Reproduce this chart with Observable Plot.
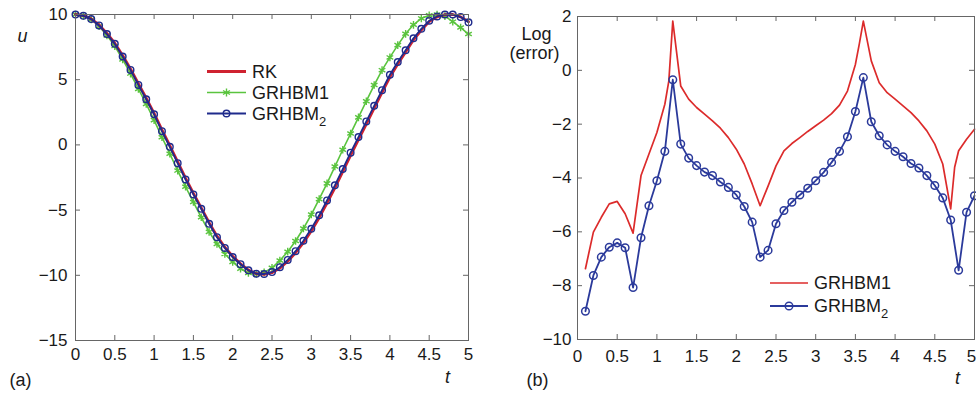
<!DOCTYPE html>
<html><head><meta charset="utf-8">
<script src="https://cdn.jsdelivr.net/npm/d3@7"></script>
<script src="https://cdn.jsdelivr.net/npm/@observablehq/plot@0.6"></script>
<style>
body{margin:0;background:#fff;}
#wrap{position:relative;width:976px;height:394px;font-family:"Liberation Sans",Arial,sans-serif;}
#wrap svg{position:absolute;left:0;top:0;}
</style></head><body><div id="wrap"></div>
<script>
// ---------- panel (a): u(t) ----------
const tA = [0,0.1,0.2,0.3,0.4,0.5,0.6,0.7,0.8,0.9,1.0,1.1,1.2,1.3,1.4,1.5,1.6,1.7,1.8,1.9,2.0,2.1,2.2,2.3,2.4,2.5,2.6,2.7,2.8,2.9,3.0,3.1,3.2,3.3,3.4,3.5,3.6,3.7,3.8,3.9,4.0,4.1,4.2,4.3,4.4,4.5,4.6,4.7,4.8,4.9,5.0];
const rkU = [10,9.92,9.67,9.2,8.55,7.8,6.85,5.82,4.7,3.58,2.42,1.15,-0.05,-1.3,-2.55,-3.72,-4.83,-5.96,-7.0,-7.85,-8.55,-9.12,-9.6,-9.88,-9.92,-9.8,-9.45,-8.92,-8.27,-7.5,-6.6,-5.58,-4.46,-3.3,-2.06,-0.8,0.4,1.6,2.82,4.02,5.2,6.2,7.12,8.06,8.8,9.45,9.82,9.99,10.0,9.82,9.45];
const grhbm1U = [10,9.9,9.62,9.1,8.4,7.58,6.56,5.47,4.29,3.14,1.9,0.59,-0.68,-1.97,-3.21,-4.38,-5.55,-6.67,-7.6,-8.37,-8.98,-9.5,-9.82,-9.9,-9.78,-9.43,-8.87,-8.19,-7.37,-6.41,-5.34,-4.16,-2.95,-1.66,-0.37,0.87,2.11,3.35,4.59,5.73,6.71,7.65,8.52,9.21,9.7,9.94,10.0,9.88,9.45,9.0,8.5];
const grhbm2U = [10,9.9,9.65,9.16,8.5,7.75,6.78,5.75,4.6,3.5,2.35,1.05,-0.15,-1.4,-2.65,-3.8,-4.9,-6.05,-7.08,-7.9,-8.6,-9.15,-9.62,-9.88,-9.9,-9.75,-9.38,-8.82,-8.15,-7.35,-6.43,-5.4,-4.26,-3.1,-1.85,-0.6,0.6,1.8,3.0,4.2,5.38,6.35,7.25,8.18,8.9,9.52,9.85,10.0,10.0,9.8,9.4];

// ---------- panel (b): Log(error) ----------
const tB2 = [0.1,0.2,0.3,0.4,0.5,0.6,0.7,0.8,0.9,1.0,1.1,1.2,1.3,1.4,1.5,1.6,1.7,1.8,1.9,2.0,2.1,2.2,2.3,2.4,2.5,2.6,2.7,2.8,2.9,3.0,3.1,3.2,3.3,3.4,3.5,3.6,3.7,3.8,3.9,4.0,4.1,4.2,4.3,4.4,4.5,4.6,4.7,4.8,4.9,5.0];
const grhbm2Err = [-8.95,-7.62,-6.94,-6.57,-6.41,-6.59,-8.07,-6.22,-5.03,-4.10,-3.01,-0.35,-2.74,-3.26,-3.54,-3.78,-3.91,-4.15,-4.35,-4.63,-5.06,-5.64,-6.94,-6.69,-5.70,-5.21,-4.90,-4.63,-4.38,-4.10,-3.79,-3.42,-3.01,-2.47,-1.53,-0.27,-1.91,-2.43,-2.77,-3.01,-3.21,-3.46,-3.63,-3.91,-4.28,-4.74,-5.56,-7.43,-5.27,-4.66];
const tB1 = [0.1,0.2,0.3,0.4,0.5,0.6,0.7,0.8,0.9,1.0,1.1,1.15,1.2,1.3,1.4,1.5,1.6,1.7,1.8,1.9,2.0,2.1,2.2,2.3,2.4,2.5,2.6,2.7,2.8,2.9,3.0,3.1,3.2,3.3,3.4,3.5,3.55,3.6,3.7,3.8,3.9,4.0,4.1,4.2,4.3,4.4,4.5,4.6,4.7,4.75,4.8,4.9,5.0];
const grhbm1Err = [-7.37,-6.01,-5.46,-4.96,-4.87,-5.33,-6.05,-3.91,-3.11,-2.31,-1.26,-0.40,1.83,-0.58,-1.07,-1.38,-1.63,-1.88,-2.15,-2.50,-2.93,-3.48,-4.22,-5.03,-4.30,-3.55,-2.99,-2.72,-2.50,-2.27,-2.06,-1.85,-1.61,-1.29,-0.77,0.22,0.99,1.83,0.35,-0.46,-0.83,-1.07,-1.32,-1.57,-1.88,-2.25,-2.74,-3.48,-5.15,-3.6,-2.99,-2.56,-2.19];

// ---------- ticks & labels ----------
const xTicks = [0,0.5,1,1.5,2,2.5,3,3.5,4,4.5,5];
const yTicksA = [-15,-10,-5,0,5,10];
const yTicksB = [-10,-8,-6,-4,-2,0,2];
const legendA = ["RK","GRHBM1","GRHBM2"];
const legendB = ["GRHBM1","GRHBM2"];

const FONT = '"Liberation Sans", Arial, sans-serif';
const C = {rk:"#cf2230", g1:"#5ac43e", g2:"#1f2b8c", e1:"#dc2b2b", e2:"#2b3a9b", axis:"#666"};
const fmt = d => d < 0 ? "\u2212" + Math.abs(d) : String(d);

function panel({ml, mr, mt, mb, yDomain, yTicks, xPad, yPad, lastDx, marks}) {
  const W = 976, H = 394, fw = W - ml - mr, fh = H - mt - mb, tk = 5;
  return Plot.plot({
    width: W, height: H, marginLeft: ml, marginRight: mr, marginTop: mt, marginBottom: mb,
    style: {background: "transparent", fontFamily: FONT, fontSize: "17px", color: "#1a1a1a", overflow: "visible"},
    x: {domain: [0, 5], label: null},
    y: {domain: yDomain, label: null},
    marks: [
      ...marks,
      Plot.frame({stroke: C.axis}),
      Plot.tickX(xTicks, {x: d => d, insetTop: fh - tk, stroke: C.axis}),
      Plot.tickX(xTicks, {x: d => d, insetBottom: fh - tk, stroke: C.axis}),
      Plot.tickY(yTicks, {y: d => d, insetRight: fw - tk, stroke: C.axis}),
      Plot.tickY(yTicks, {y: d => d, insetLeft: fw - tk, stroke: C.axis}),
      Plot.axisX(xTicks.slice(0, -1), {tickSize: 0, tickPadding: xPad, tickFormat: fmt, label: null, fontSize: 17}),
      Plot.axisX(xTicks.slice(-1), {tickSize: 0, tickPadding: xPad, tickFormat: fmt, label: null, fontSize: 17, dx: lastDx}),
      Plot.axisY(yTicks, {tickSize: 0, tickPadding: yPad, tickFormat: fmt, label: null, fontSize: 17})
    ]
  });
}

const rowsA = tA.map((t, i) => ({t, rk: rkU[i], g1: grhbm1U[i], g2: grhbm2U[i]}));
const rowsB2 = tB2.map((t, i) => ({t, v: grhbm2Err[i]}));
const rowsB1 = tB1.map((t, i) => ({t, v: grhbm1Err[i]}));
const lbl = (s, o) => Plot.text([s], {text: d => d, fontSize: 18, fill: "#1a1a1a", textAnchor: "middle", lineAnchor: "middle", ...o});

const plotA = panel({
  ml: 75, mr: 508, mt: 14, mb: 54, yDomain: [-15, 10], yTicks: yTicksA, xPad: 7, yPad: 8, lastDx: 0,
  marks: [
    Plot.line(rowsA, {x: "t", y: "g1", stroke: C.g1, strokeWidth: 1.6}),
    Plot.dot(rowsA, {x: "t", y: "g1", symbol: "asterisk", r: 3.6, stroke: C.g1, strokeWidth: 1.4, fill: "none"}),
    Plot.line(rowsA, {x: "t", y: "rk", stroke: C.rk, strokeWidth: 2.8}),
    Plot.line(rowsA, {x: "t", y: "g2", stroke: C.g2, strokeWidth: 1.8}),
    Plot.dot(rowsA, {x: "t", y: "g2", r: 3.3, stroke: C.g2, strokeWidth: 1.4, fill: "none"}),
    lbl("u", {frameAnchor: "top-left", dx: -53, dy: 22, fontStyle: "italic"}),
    lbl("t", {frameAnchor: "bottom-right", dx: -21, dy: 37, fontStyle: "italic"}),
    lbl("(a)", {frameAnchor: "bottom-left", dx: -55, dy: 40})
  ]
});

const plotB = panel({
  ml: 577, mr: 2, mt: 16, mb: 55, yDomain: [-10, 2], yTicks: yTicksB, xPad: 10, yPad: 6, lastDx: -3,
  marks: [
    Plot.line(rowsB1, {x: "t", y: "v", stroke: C.e1, strokeWidth: 1.7}),
    Plot.line(rowsB2, {x: "t", y: "v", stroke: C.e2, strokeWidth: 1.8}),
    Plot.dot(rowsB2, {x: "t", y: "v", r: 3.8, stroke: C.e2, strokeWidth: 1.5, fill: "none"}),
    lbl("Log", {frameAnchor: "top-left", dx: -41, dy: 18}),
    lbl("(error)", {frameAnchor: "top-left", dx: -43, dy: 37}),
    lbl("t", {frameAnchor: "bottom-right", dx: -17, dy: 39, fontStyle: "italic"}),
    lbl("(b)", {frameAnchor: "bottom-left", dx: -40, dy: 41})
  ]
});

const wrap = document.getElementById("wrap");
wrap.append(plotA, plotB);

// ---------- legends ----------
const svg = d3.select(wrap).append("svg").attr("width", 976).attr("height", 394)
  .style("font-family", FONT).style("font-size", "18px");
function legend(items, x0, x1, tx, y0, dy) {
  items.forEach((it, i) => {
    const y = y0 + i * dy, xm = (x0 + x1) / 2;
    svg.append("line").attr("x1", x0).attr("x2", x1).attr("y1", y).attr("y2", y)
      .attr("stroke", it.color).attr("stroke-width", it.w);
    if (it.marker === "circle") svg.append("circle").attr("cx", xm).attr("cy", y).attr("r", it.r)
      .attr("fill", "none").attr("stroke", it.color).attr("stroke-width", 1.4);
    if (it.marker === "star") svg.append("path").attr("transform", `translate(${xm},${y})`)
      .attr("d", d3.symbol(d3.symbolAsterisk, 45)()).attr("fill", "none").attr("stroke", it.color).attr("stroke-width", 1.4);
    const tx0 = svg.append("text").attr("x", tx).attr("y", y).attr("dy", "0.36em").attr("fill", "#1a1a1a");
    const m = it.label.match(/^(GRHBM)2$/);
    if (m) { tx0.append("tspan").text(m[1]); tx0.append("tspan").attr("dy", 6).attr("font-size", 13).text("2"); }
    else tx0.text(it.label);
  });
}
legend([
  {label: legendA[0], color: C.rk, w: 2.8},
  {label: legendA[1], color: C.g1, w: 1.6, marker: "star"},
  {label: legendA[2], color: C.g2, w: 1.8, marker: "circle", r: 3.3}
], 207, 246, 252, 71.5, 21);
legend([
  {label: legendB[0], color: C.e1, w: 1.7},
  {label: legendB[1], color: C.e2, w: 1.8, marker: "circle", r: 3.8}
], 770, 808, 814, 283, 23);
</script></body></html>
